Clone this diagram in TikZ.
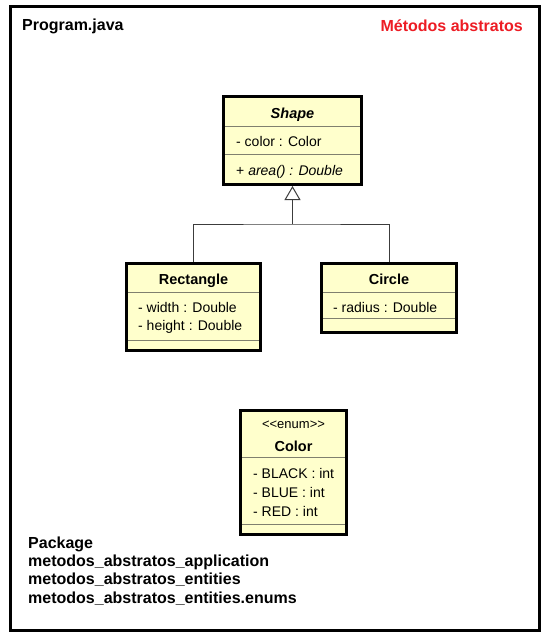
\documentclass[tikz,border=0pt]{standalone}
\usepackage{fontspec}
\setmainfont{Liberation Sans}
\usetikzlibrary{arrows.meta}
\definecolor{classfill}{RGB}{255,255,204}
\definecolor{sepline}{RGB}{128,128,110}
\definecolor{titlered}{RGB}{237,28,36}
\definecolor{connline}{RGB}{60,60,60}
\begin{document}
\begin{tikzpicture}[x=1pt,y=-1pt,
  classbox/.style={draw=black, line width=3pt, fill=classfill, inner sep=0pt},
  sepl/.style={draw=sepline, line width=1pt},
  boxtitle/.style={font=\fontsize{14.5}{16}\selectfont\bfseries, inner sep=0pt, anchor=base},
  attr/.style={font=\fontsize{14}{16}\selectfont, inner sep=0pt, anchor=base west},
  stereo/.style={font=\fontsize{13}{15}\selectfont, inner sep=0pt, anchor=base},
  headline/.style={font=\fontsize{16}{19}\selectfont\bfseries, inner sep=0pt},
  conn/.style={draw=connline, line width=1pt},
]
\fill[white] (0,0) rectangle (546,640);
\useasboundingbox (0,0) rectangle (546,640);
\draw[line width=3pt] (10.5,6.5) rectangle (539.5,630);

% titles
\node[headline, anchor=base west] (prog) at (22,30) {Program.java};
\node[headline, anchor=base east, text=titlered] (met) at (523,31) {Métodos abstratos};

% Shape
\node[classbox, minimum width=138pt, minimum height=88pt] (shape) at (292.5,140.5) {};
\draw[sepl] (225,126.5) -- (360,126.5);
\draw[sepl] (225,154) -- (360,154);
\node[boxtitle, font={\fontsize{14.5}{16}\selectfont\bfseries\itshape}] (shapeT) at (292.5,118) {Shape};
\node[attr] (shapeA1) at (236,146) {- color : Color};
\node[attr] (shapeO1) at (236,175) {+ \textit{area() : Double}};

% Rectangle
\node[classbox, minimum width=134pt, minimum height=87pt] (rect) at (193.5,307) {};
\draw[sepl] (128,292) -- (259,292);
\draw[sepl] (128,340) -- (259,340);
\node[boxtitle] (rectT) at (193.5,284) {Rectangle};
\node[attr] (rectA1) at (138,312) {- width : Double};
\node[attr] (rectA2) at (138,330) {- height : Double};

% Circle
\node[classbox, minimum width=135pt, minimum height=69pt] (circ) at (389,298) {};
\draw[sepl] (323,292) -- (455,292);
\draw[sepl] (323,318) -- (455,318);
\node[boxtitle] (circT) at (389,284) {Circle};
\node[attr] (circA1) at (333,312) {- radius : Double};

% Color enum
\node[classbox, minimum width=106pt, minimum height=124pt] (colr) at (293.5,472.5) {};
\draw[sepl] (242,457) -- (345,457);
\draw[sepl] (242,524) -- (345,524);
\node[stereo] (colrS) at (293.5,428) {<{}<enum>{}>};
\node[boxtitle] (colrT) at (293.5,451) {Color};
\node[attr] (colrA1) at (253,478) {- BLACK : int};
\node[attr] (colrA2) at (253,497) {- BLUE : int};
\node[attr] (colrA3) at (253,516) {- RED : int};

% generalization
\coordinate (j) at (292.5,224);
\draw[conn] (rect.north) |- (j) -| (circ.north);
\draw[conn, -{Triangle[open, length=14pt, width=16pt, fill=white]}] (j) -- (shape.south);

% package text
\node[headline, anchor=base west] (pk1) at (28,548) {Package};
\node[headline, anchor=base west] (pk2) at (28,566.3) {metodos\_abstratos\_application};
\node[headline, anchor=base west] (pk3) at (28,584.6) {metodos\_abstratos\_entities};
\node[headline, anchor=base west] (pk4) at (28,603) {metodos\_abstratos\_entities.enums};
\end{tikzpicture}
\end{document}
